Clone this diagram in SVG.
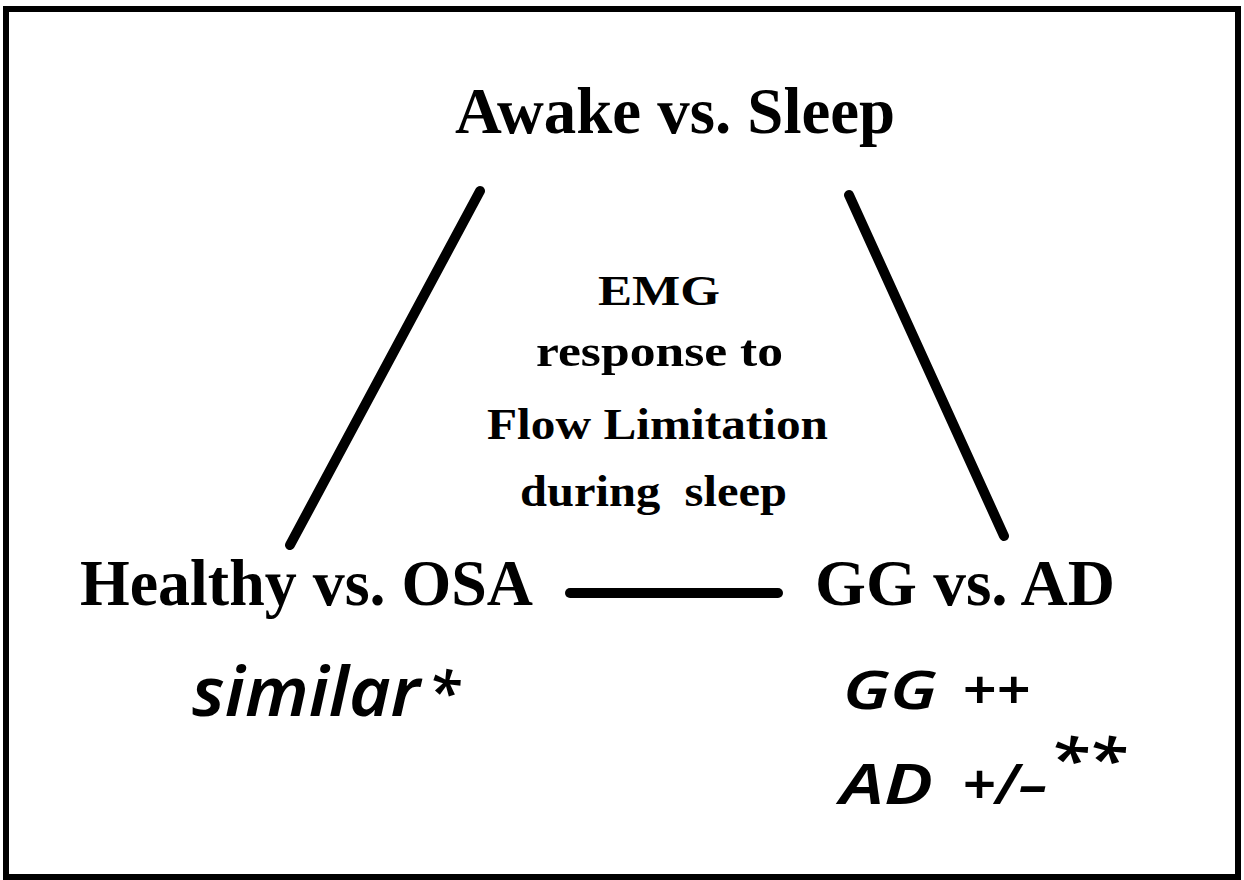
<svg xmlns="http://www.w3.org/2000/svg" width="1244" height="880" viewBox="0 0 1244 880">
  <style>
    .frame { fill: #ffffff; stroke: #000000; stroke-width: 6; }
    .edge { stroke: #000000; stroke-width: 10; stroke-linecap: round; fill: none; }
    .title { font-family: "Liberation Serif", "Times New Roman", serif; font-weight: bold; fill: #000000; }
    .hand { font-family: "Noto Sans", "DejaVu Sans", sans-serif; font-style: italic; font-weight: 600; fill: #000000; }
  </style>

  <!-- outer frame -->
  <rect class="frame" x="6" y="9" width="1232" height="868"/>

  <!-- connectors of the triangle -->
  <g id="connectors">
    <line class="edge" x1="480" y1="191" x2="290" y2="545"/>
    <line class="edge" x1="849" y1="195" x2="1004" y2="536"/>
    <line class="edge" x1="570" y1="593" x2="778" y2="593" stroke-width="9" stroke-linecap="butt"/>
  </g>

  <!-- top vertex -->
  <g id="awake-sleep">
    <text class="title" x="455" y="133" font-size="66" textLength="440" lengthAdjust="spacingAndGlyphs">Awake vs. Sleep</text>
  </g>

  <!-- centre label -->
  <g id="emg-response">
    <text class="title" x="598" y="305" font-size="42" textLength="122" lengthAdjust="spacingAndGlyphs">EMG</text>
    <text class="title" x="536" y="366" font-size="45" textLength="247" lengthAdjust="spacingAndGlyphs">response to</text>
    <text class="title" x="487" y="439" font-size="44" textLength="341" lengthAdjust="spacingAndGlyphs">Flow Limitation</text>
    <text class="title" x="520" y="506" font-size="45" textLength="267" lengthAdjust="spacingAndGlyphs" xml:space="preserve">during  sleep</text>
  </g>

  <!-- bottom-left vertex -->
  <g id="healthy-osa">
    <text class="title" x="80" y="605" font-size="66" textLength="453" lengthAdjust="spacingAndGlyphs">Healthy vs. OSA</text>
    <text class="hand" x="192" y="716" font-size="68" textLength="228" lengthAdjust="spacingAndGlyphs">similar</text>
    <text class="hand" x="428" y="713" font-size="58">*</text>
  </g>

  <!-- bottom-right vertex -->
  <g id="gg-ad">
    <text class="title" x="815" y="605" font-size="66" textLength="300" lengthAdjust="spacingAndGlyphs">GG vs. AD</text>
    <text class="hand" x="843" y="709" font-size="52" textLength="94" lengthAdjust="spacingAndGlyphs">GG</text>
    <text class="hand" x="962" y="709" font-size="54" textLength="68" lengthAdjust="spacingAndGlyphs" font-weight="500">++</text>
    <text class="hand" x="840" y="804" font-size="56" textLength="93" lengthAdjust="spacingAndGlyphs">AD</text>
    <text class="hand" x="962" y="804" font-size="56" textLength="85" lengthAdjust="spacingAndGlyphs" font-weight="500">+/–</text>
    <text class="hand" x="1049" y="781" font-size="60" textLength="76" lengthAdjust="spacingAndGlyphs">**</text>
  </g>
</svg>
